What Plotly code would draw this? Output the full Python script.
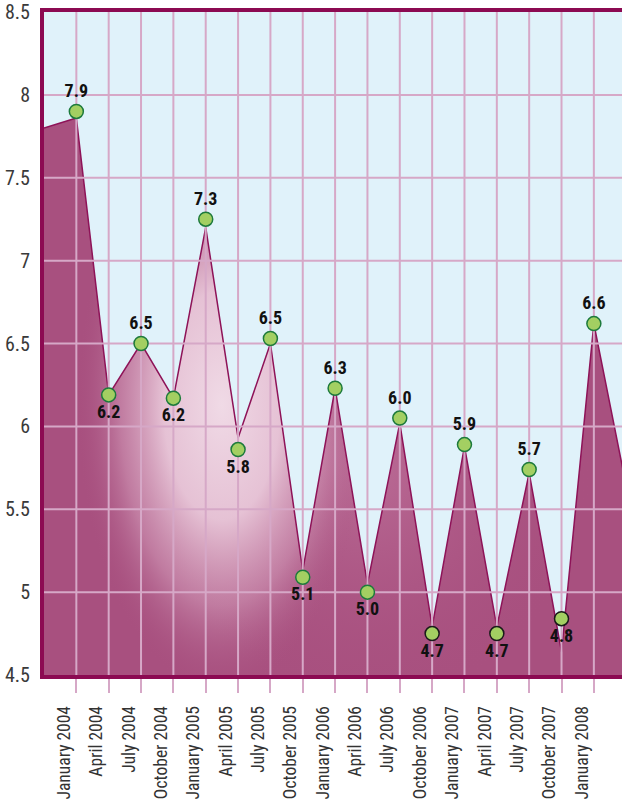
import plotly.graph_objects as go

# ---------------- data ----------------
categories = ["January 2004", "April 2004", "July 2004", "October 2004",
              "January 2005", "April 2005", "July 2005", "October 2005",
              "January 2006", "April 2006", "July 2006", "October 2006",
              "January 2007", "April 2007", "July 2007", "October 2007",
              "January 2008"]
marker_values = [7.90, 6.19, 6.50, 6.17, 7.25, 5.86, 6.53, 5.09, 6.23,
                 5.00, 6.05, 4.75, 5.89, 4.75, 5.74, 4.84, 6.62]
value_labels = ["7.9", "6.2", "6.5", "6.2", "7.3", "5.8", "6.5", "5.1", "6.3",
                "5.0", "6.0", "4.7", "5.9", "4.7", "5.7", "4.8", "6.6"]
# area series: one period before the first category and one after the last
area_values = [7.80, 7.86, 6.19, 6.50, 6.17, 7.20, 5.93, 6.50, 5.13, 6.23,
               5.05, 6.02, 4.79, 5.88, 4.79, 5.72, 4.64, 6.62, 5.64]
y_ticks = [4.5, 5, 5.5, 6, 6.5, 7, 7.5, 8, 8.5]
y_ticktext = ["4.5", "5", "5.5", "6", "6.5", "7", "7.5", "8", "8.5"]

# ---------------- styles ----------------
FONT = "Liberation Sans Narrow, Arial Narrow, Roboto Condensed, DejaVu Sans Condensed, sans-serif"
BG = "#e0f2fa"
GRID = "#d6a8c7"
BORDER = "#8c0a52"
AREA = "#a8507f"
AREA_LINE = "#8e1358"

idx = list(range(len(categories)))
area_x = list(range(-1, len(categories) + 1))
x_range = [-1, 16.87]
y_range = [y_ticks[0], y_ticks[-1]]
base = y_ticks[0]


def segment(a, b, floor):
    """Part of the area between category a and b, closed at `floor`
    (the radial gradient is fitted to this polygon's bounding box)."""
    xs = area_x[a + 1:b + 2]
    ys = area_values[a + 1:b + 2]
    return xs + [xs[-1], xs[0]], ys + [floor, floor]


fig = go.Figure()

# base area
fig.add_trace(go.Scatter(
    x=area_x + [area_x[-1], area_x[0]], y=area_values + [base, base],
    fill="toself", fillcolor=AREA, mode="none", hoverinfo="skip"))

# broad faint glow
gx, gy = segment(2, 16, 4.3)
fig.add_trace(go.Scatter(
    x=gx, y=gy, fill="toself", mode="none", hoverinfo="skip",
    fillgradient=dict(type="radial", colorscale=[
        [0, "rgba(214,150,185,0.40)"], [1, "rgba(168,80,127,0)"]])))

# strong highlight
hx, hy = segment(0, 9, 4.4)
fig.add_trace(go.Scatter(
    x=hx, y=hy, fill="toself", mode="none", hoverinfo="skip",
    fillgradient=dict(type="radial", colorscale=[
        [0, "rgba(240,218,230,1)"], [0.4, "rgba(234,202,219,0.93)"],
        [0.7, "rgba(222,176,201,0.45)"], [1, "rgba(168,80,127,0)"]])))

# area outline
fig.add_trace(go.Scatter(
    x=area_x, y=area_values, mode="lines",
    line=dict(color=AREA_LINE, width=1.5), hoverinfo="skip"))

# grid drawn over the area, from the tick positions
grid_x, grid_y = [], []
for t in idx:
    grid_x += [t, t, None]
    grid_y += [y_range[0], y_range[1], None]
for v in y_ticks[1:-1]:
    grid_x += [x_range[0], x_range[1], None]
    grid_y += [v, v, None]
fig.add_trace(go.Scatter(
    x=grid_x, y=grid_y, mode="lines", line=dict(color=GRID, width=2),
    hoverinfo="skip"))

# markers + labels
positions = []
for i, v in enumerate(marker_values):
    left = marker_values[i - 1] if i > 0 else -1
    right = marker_values[i + 1] if i < len(marker_values) - 1 else -1
    positions.append("top center" if v >= left and v >= right else "bottom center")
outline = ["#1a1a1a" if v < 4.9 else "#1d7a3c" for v in marker_values]

fig.add_trace(go.Scatter(
    x=idx, y=marker_values, mode="markers+text",
    text=value_labels, textposition=positions,
    textfont=dict(family=FONT, size=18, color="#111111", weight="bold"),
    marker=dict(size=14, color="#a3cf62", line=dict(color=outline, width=1.5))))

fig.update_layout(
    width=622, height=801,
    margin=dict(l=44, r=0, t=12, b=126, autoexpand=False),
    paper_bgcolor="white",
    plot_bgcolor=BG,
    showlegend=False,
    xaxis=dict(range=x_range, automargin=False,
               tickmode="array", tickvals=idx, ticktext=categories,
               tickangle=-90, tickfont=dict(family=FONT, size=17.5, color="#333333"),
               showgrid=False, zeroline=False,
               ticks="outside", ticklen=14, tickcolor=GRID, tickwidth=1.5,
               ticklabelshift=-12, ticklabelstandoff=6,
               showline=True, linecolor=BORDER, linewidth=4, mirror=True),
    yaxis=dict(range=y_range, automargin=False,
               tickmode="array", tickvals=y_ticks, ticktext=y_ticktext,
               tickfont=dict(family=FONT, size=20, color="#3a3a3a"),
               showgrid=False, zeroline=False,
               ticks="outside", ticklen=6, tickcolor="rgba(0,0,0,0)",
               showline=True, linecolor=BORDER, linewidth=4, mirror=False),
)

fig.write_html("out.html",
               config={"displayModeBar": False},
               post_script="document.body.style.margin='0';"
                           "document.body.style.overflow='hidden';")
